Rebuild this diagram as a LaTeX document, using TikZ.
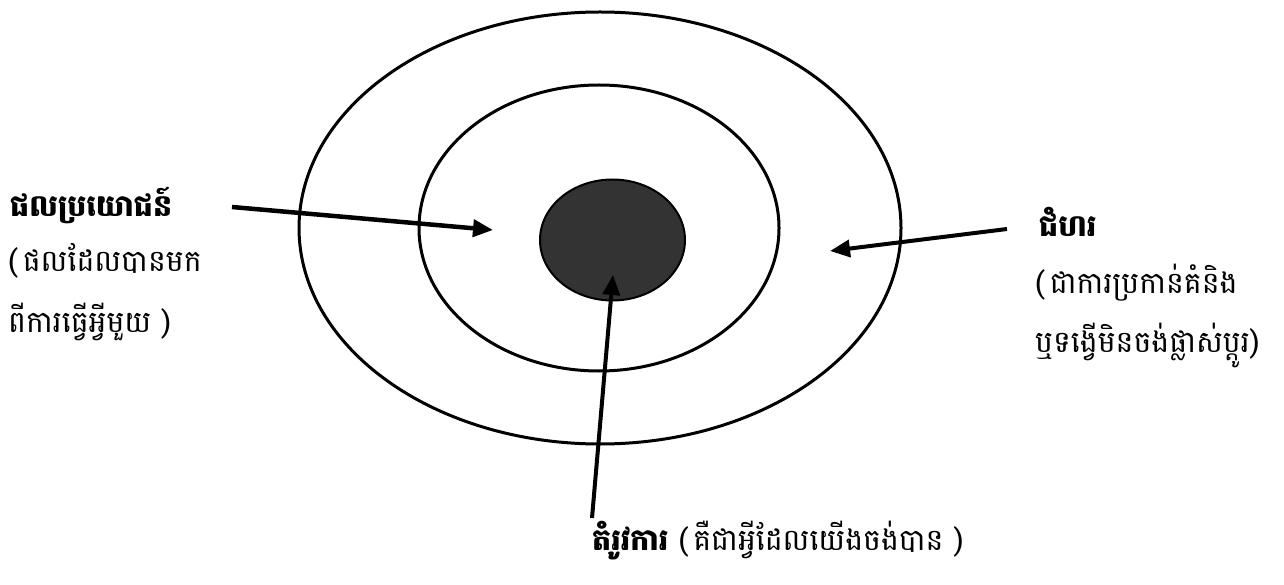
\documentclass[tikz,border=0pt]{standalone}
\usepackage{fontspec}
\newfontfamily\khmer[Script=Khmer]{Battambang}
\usetikzlibrary{arrows.meta,shapes.geometric}
\definecolor{dark}{HTML}{333333}
\tikzset{
  ring/.style={draw=black,line width=3pt,ellipse,inner sep=0pt},
  core/.style={draw=black,line width=2pt,fill=dark,ellipse,inner sep=0pt},
  pointer/.style={-{Triangle[length=20pt,width=17pt]},line width=4.5pt},
  lbl/.style={anchor=base west,inner sep=0pt,font=\khmer\fontsize{30}{36}\selectfont},
}
\begin{document}
\begin{tikzpicture}[x=1pt,y=-1pt]
\useasboundingbox (0,0) rectangle (1284,585);
\node[ring,minimum width=602pt,minimum height=432pt] (outer) at (600,228) {};
\node[ring,minimum width=360pt,minimum height=286pt] (middle) at (599,228) {};
\node[core,minimum width=145pt,minimum height=121pt] (core) at (612.5,240) {};

\node[lbl] (benefit) at (10,217) {\bfseries ផលប្រយោជន៍};
\node[lbl] (benefit2) at (8,272) {(\,ផលដែលបានមក};
\node[lbl] (benefit3) at (8,332) {ពីការធ្វើអ្វីមួយ )};

\node[lbl] (pos) at (1039,237) {\bfseries ជំហរ};
\node[lbl] (pos2) at (1035,293) {(\,ជាការប្រកាន់គំនិង};
\node[lbl] (pos3) at (1035,352) {ឬទង្វើមិនចង់ផ្លាស់ប្តូរ)};

\node[lbl] (need) at (592,550) {\textbf{តំរូវការ} (\,គឺជាអ្វីដែលយើងចង់បាន )};

\coordinate (bs) at (232,207);
\coordinate (bt) at (493,230);
\coordinate (ps) at (1007,229);
\coordinate (pt) at (830,251);
\coordinate (ns) at (592,518);
\coordinate (nt) at (613,275);
\draw[pointer] (bs) -- (bt);
\draw[pointer,line width=4pt] (ps) -- (pt);
\draw[pointer,line width=4pt] (ns) -- (nt);
\end{tikzpicture}
\end{document}
